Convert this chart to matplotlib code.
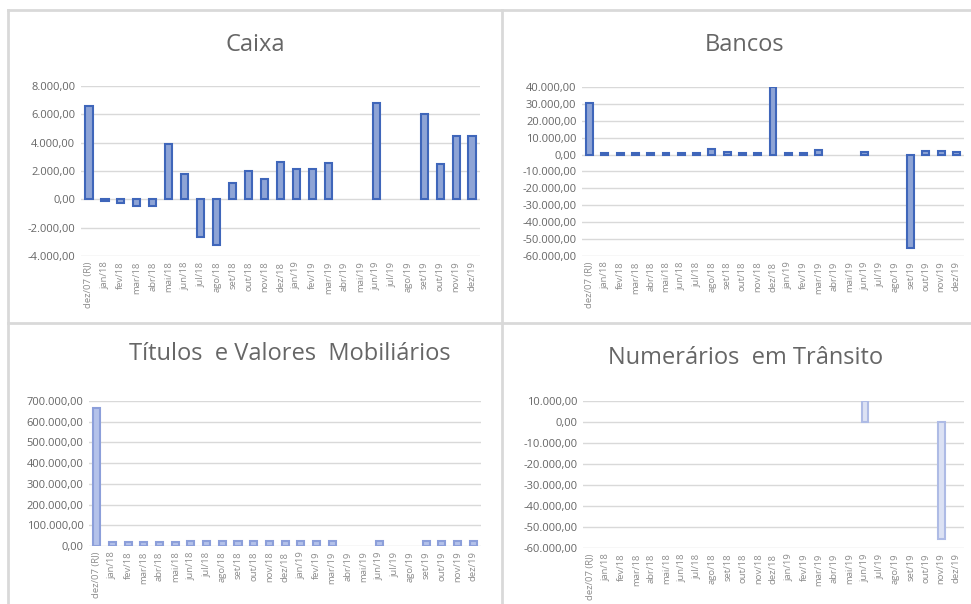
import numpy as np
import matplotlib
matplotlib.use("Agg")
import matplotlib.pyplot as plt
from matplotlib.ticker import FuncFormatter, MultipleLocator
from matplotlib.lines import Line2D

plt.rcParams['font.family'] = ['Open Sans', 'DejaVu Sans']

meses = ["dez/07 (RJ)", "jan/18", "fev/18", "mar/18", "abr/18", "mai/18", "jun/18",
         "jul/18", "ago/18", "set/18", "out/18", "nov/18", "dez/18", "jan/19", "fev/19",
         "mar/19", "abr/19", "mai/19", "jun/19", "jul/19", "ago/19", "set/19", "out/19",
         "nov/19", "dez/19"]
nan = np.nan

caixa = [6600, -100, -250, -500, -500, 3900, 1800, -2650, -3200, 1150, 2000, 1450,
         2600, 2150, 2150, 2550, nan, nan, 6800, nan, nan, 6000, 2500, 4500, 4500]
bancos = [30500, 1000, 1000, 1000, 1000, 1000, 1000, 1000, 3500, 1500, 1000, 1000,
          40000, 1000, 1000, 2500, nan, nan, 1500, nan, nan, -55000, 2000, 2000, 1500]
titulos = [668000, 17000, 17000, 17000, 17000, 17000, 22000, 22000, 22000, 22000, 22000,
           22000, 22000, 22000, 22000, 22000, nan, nan, 22000, nan, nan, 22000, 22000,
           22000, 22000]
numerarios = [nan] * 18 + [10000] + [nan] * 4 + [-55700] + [nan]


def fmt_br(v, pos):
    s = "{:,.2f}".format(v)
    return s.replace(",", "X").replace(".", ",").replace("X", ".")


fig = plt.figure(figsize=(9.71, 6.04), dpi=100)

paineis = [
    ("Caixa", caixa, [0.0834, 0.5762, 0.411, 0.2815], (-4000, 8000), 2000,
     "#8EA4D6", "#3F66BA", (255, 45)),
    ("Bancos", bancos, [0.5994, 0.5762, 0.3934, 0.2798], (-60000, 40000), 10000,
     "#8EA4D6", "#3F66BA", (745, 45)),
    ("Títulos  e Valores  Mobiliários", titulos, [0.0917, 0.0960, 0.4037, 0.2400],
     (0, 700000), 100000, "#B4C2EA", "#8C9FDA", (290, 354)),
    ("Numerários  em Trânsito", numerarios, [0.6004, 0.0927, 0.3924, 0.2434],
     (-60000, 10000), 10000, "#DCE2F4", "#AEBBE5", (746, 358)),
]

x = np.arange(len(meses))
for titulo, vals, pos, lim, passo, cor, borda, tpos in paineis:
    ax = fig.add_axes(pos)
    ax.bar(x, vals, width=0.45, color=cor, edgecolor=borda, linewidth=1.5, zorder=3)
    ax.set_xlim(-0.5, len(meses) - 0.5)
    ax.set_ylim(*lim)
    ax.yaxis.set_major_locator(MultipleLocator(passo))
    ax.yaxis.set_major_formatter(FuncFormatter(fmt_br))
    ax.grid(axis="y", color="#D9D9D9", linewidth=1, zorder=0)
    for s in ax.spines.values():
        s.set_visible(False)
    ax.set_xticks(x)
    ax.set_xticklabels(meses, rotation=90, fontsize=6.8, color="#8C8C8C")
    ax.tick_params(axis="both", length=0)
    ax.tick_params(axis="x", pad=4)
    ax.tick_params(axis="y", labelsize=8, labelcolor="#666666", pad=4)
    fig.text(tpos[0] / 971, 1 - tpos[1] / 604, titulo, ha="center", va="center",
             fontsize=17, color="#666666")

# bordas dos graficos
cinza = "#D9D9D9"
for xs, ys in [((8, 8), (10, 604)), ((8, 971), (10, 10)), ((502, 502), (10, 604)),
               ((8, 971), (323, 323))]:
    fig.add_artist(Line2D([v / 971 for v in xs], [1 - v / 604 for v in ys],
                          color=cinza, linewidth=2))

fig.savefig("out.png", dpi=100)
